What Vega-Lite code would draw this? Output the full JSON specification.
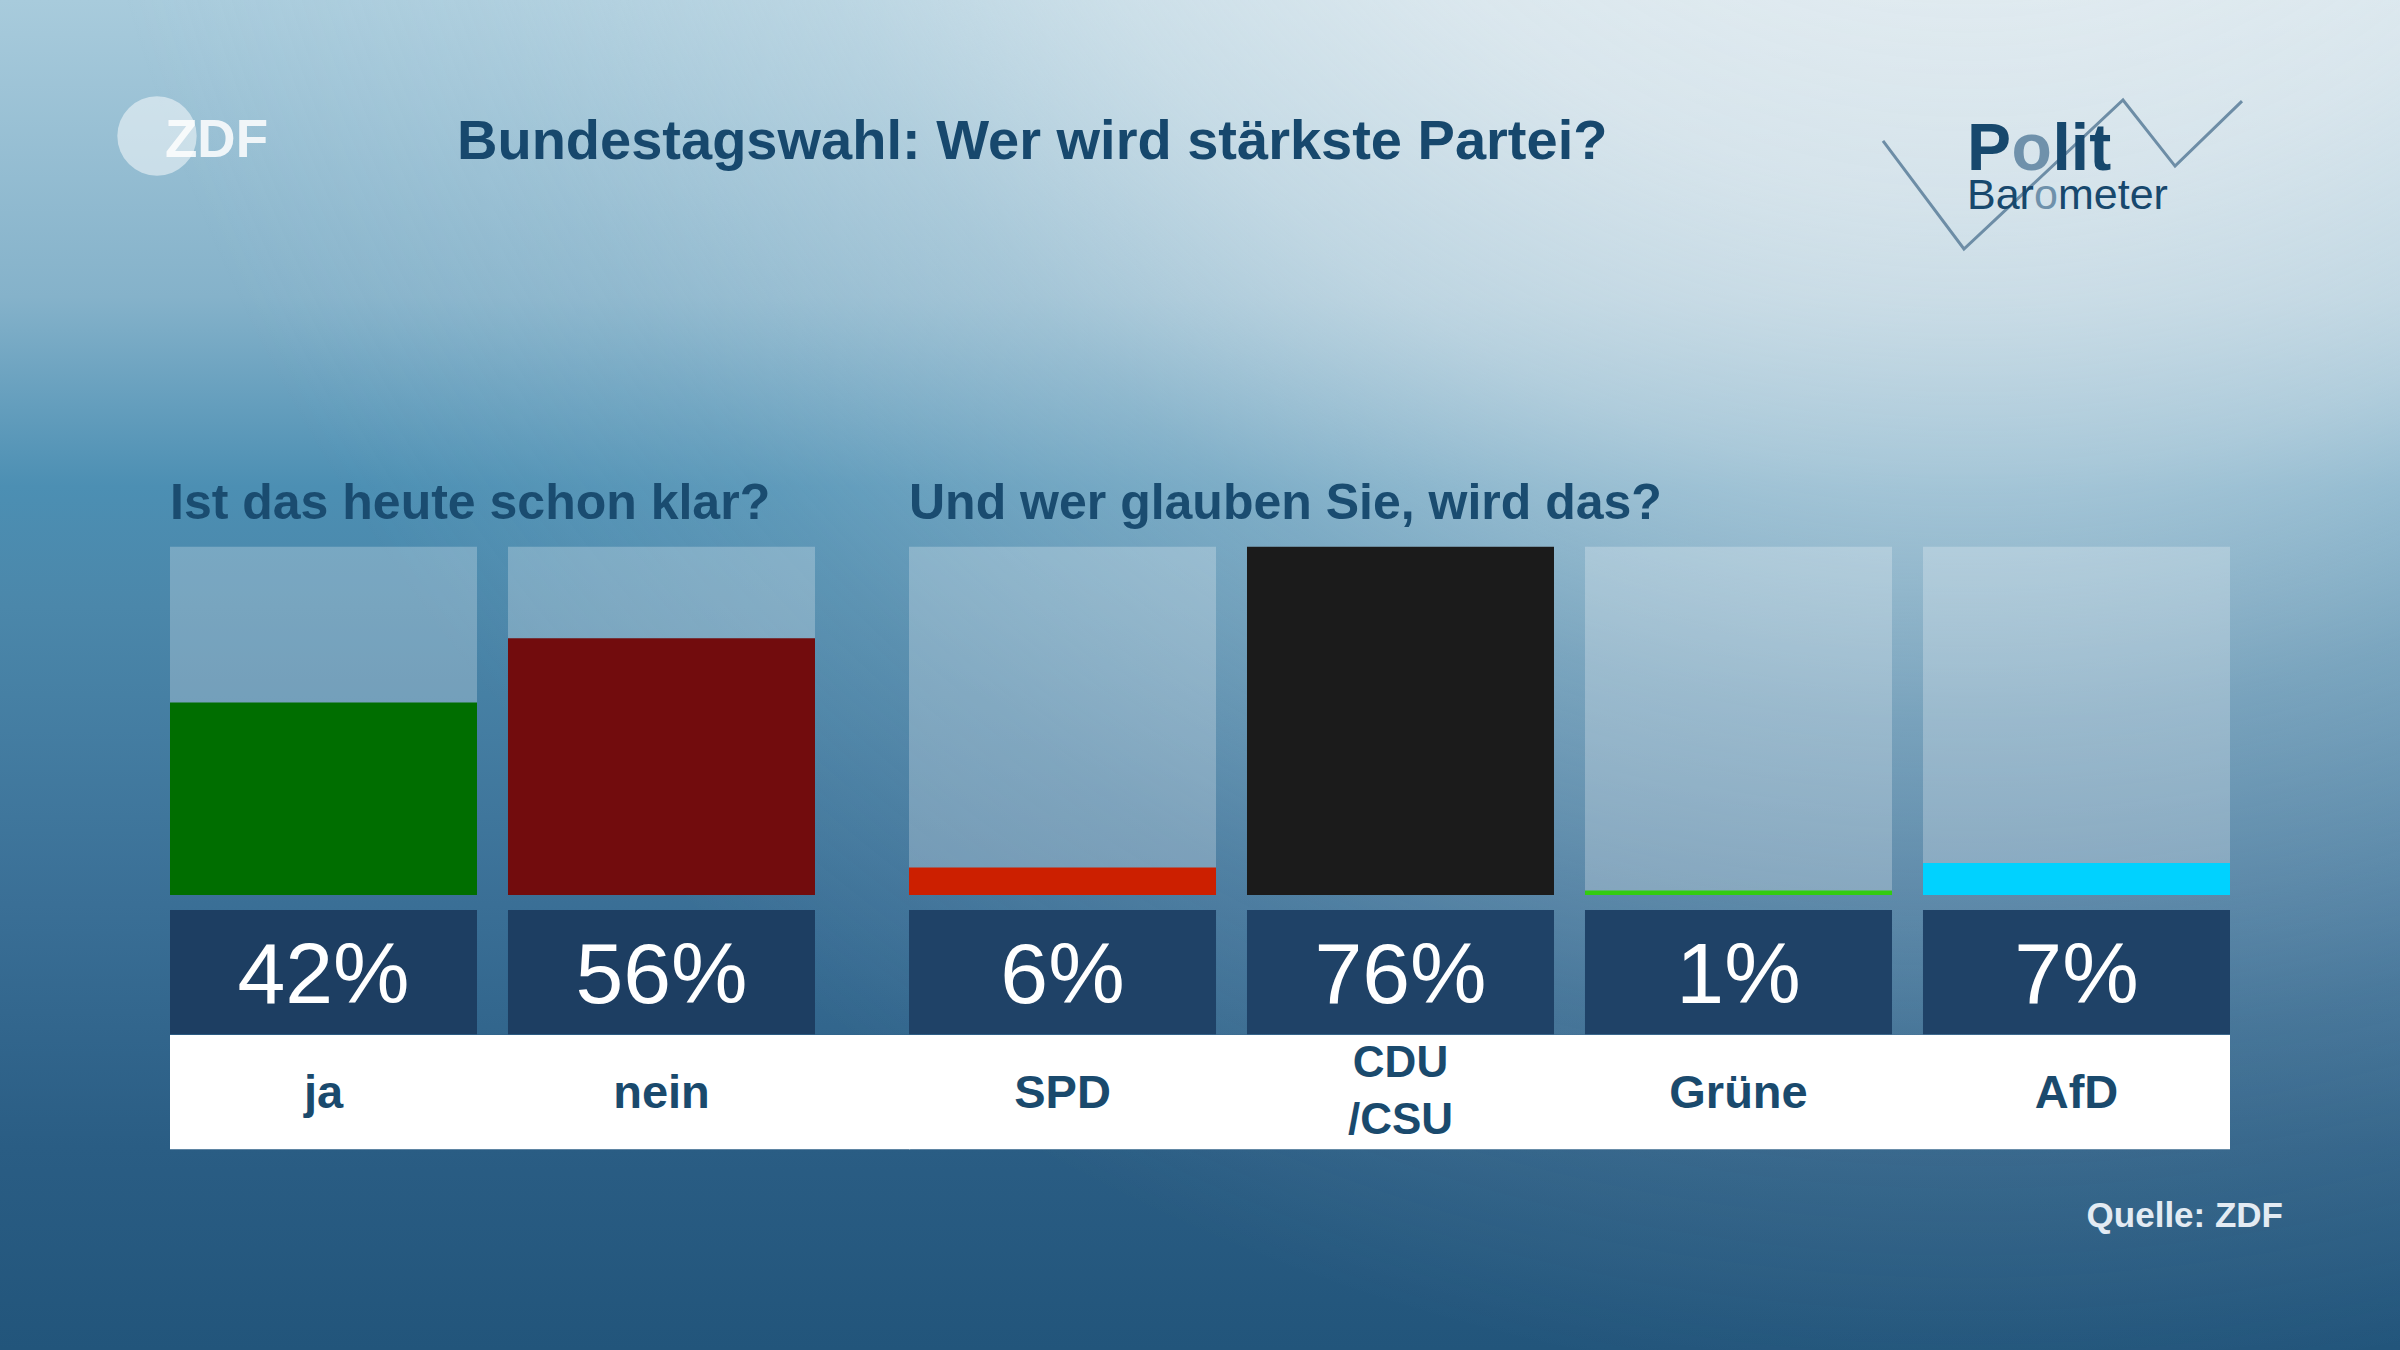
{
  "$schema": "https://vega.github.io/schema/vega-lite/v6.json",
  "width": 2400,
  "height": 1350,
  "autosize": {"type": "fit", "contains": "padding"},
  "padding": 0,
  "background": "#3c7298",
  "config": {"view": {"stroke": null}, "text": {"font": "Liberation Sans"}},
  "datasets": {
    "frage1": [
      {"kategorie": "ja", "anteil": 0.42, "name": "ja"},
      {"kategorie": "nein", "anteil": 0.56, "name": "nein"}
    ],
    "frage2": [
      {"kategorie": "SPD", "anteil": 0.06, "name": "SPD"},
      {"kategorie": "CDU/CSU", "anteil": 0.76, "name": "CDU\n/CSU"},
      {"kategorie": "Grüne", "anteil": 0.01, "name": "Grüne"},
      {"kategorie": "AfD", "anteil": 0.07, "name": "AfD"}
    ]
  },
  "layer": [
    {
      "data": {"values": [{}]},
      "mark": {"type": "rect", "fill": {"gradient": "linear", "x1": 0, "y1": 0, "x2": 0, "y2": 1, "stops": [
        {"offset": 0, "color": "#a8cbdc"},
        {"offset": 0.22, "color": "#85b2ca"},
        {"offset": 0.36, "color": "#4c8fb3"},
        {"offset": 0.45, "color": "#4b87aa"},
        {"offset": 0.67, "color": "#3a6f96"},
        {"offset": 0.85, "color": "#2a5d84"},
        {"offset": 1, "color": "#22557b"}
      ]}, "strokeWidth": 0},
      "encoding": {"x": {"value": 0}, "x2": {"value": "width"}, "y": {"value": 0}, "y2": {"value": "height"}}
    },
    {
      "data": {"values": [{}]},
      "mark": {"type": "rect", "fill": {"gradient": "radial", "x1": 0.82, "y1": 0, "r1": 0, "x2": 0.82, "y2": 0, "r2": 0.8, "stops": [
        {"offset": 0, "color": "rgba(240,244,246,0.95)"},
        {"offset": 0.375, "color": "rgba(236,241,244,0.75)"},
        {"offset": 0.52, "color": "rgba(230,238,242,0.58)"},
        {"offset": 0.65, "color": "rgba(225,235,240,0.33)"},
        {"offset": 0.82, "color": "rgba(225,235,240,0.12)"},
        {"offset": 1, "color": "rgba(225,235,240,0)"}
      ]}, "strokeWidth": 0},
      "encoding": {"x": {"value": 0}, "x2": {"value": "width"}, "y": {"value": 0}, "y2": {"value": "height"}}
    },
    {
      "data": {"name": "frage1"},
      "layer": [
        {
          "mark": {"type": "bar", "color": "#ffffff", "opacity": 0.25},
          "encoding": {
            "x": {"field": "kategorie", "type": "nominal", "scale": {"domain": ["ja", "nein"], "range": [170, 815], "paddingInner": 0.0917, "paddingOuter": 0}, "axis": null},
            "y": {"datum": 0.76, "type": "quantitative", "scale": {"domain": [-0.9928, 1.9529], "nice": false, "zero": false}, "axis": null},
            "y2": {"datum": 0}
          }
        },
        {
          "mark": {"type": "bar"},
          "encoding": {
            "x": {"field": "kategorie", "type": "nominal", "scale": {"domain": ["ja", "nein"], "range": [170, 815], "paddingInner": 0.0917, "paddingOuter": 0}, "axis": null},
            "y": {"field": "anteil", "type": "quantitative", "scale": {"domain": [-0.9928, 1.9529], "nice": false, "zero": false}, "axis": null},
            "y2": {"datum": 0},
            "color": {"field": "kategorie", "type": "nominal", "scale": {"domain": ["ja", "nein", "SPD", "CDU/CSU", "Grüne", "AfD"], "range": ["#006e00", "#720c0d", "#cc1f00", "#1b1b1b", "#33cc11", "#00d2ff"]}, "legend": null}
          }
        },
        {
          "mark": {"type": "bar", "color": "#1d3e62"},
          "encoding": {
            "x": {"field": "kategorie", "type": "nominal", "scale": {"domain": ["ja", "nein"], "range": [170, 815], "paddingInner": 0.0917, "paddingOuter": 0}, "axis": null},
            "y": {"datum": -0.0327, "type": "quantitative", "scale": {"domain": [-0.9928, 1.9529], "nice": false, "zero": false}, "axis": null},
            "y2": {"datum": -0.3039}
          }
        },
        {
          "data": {"values": [{}]},
          "mark": {"type": "rect", "color": "#ffffff"},
          "encoding": {
            "x": {"datum": "ja", "type": "nominal", "bandPosition": 0, "scale": {"domain": ["ja", "nein"], "range": [170, 815], "paddingInner": 0.0917, "paddingOuter": 0}, "axis": null},
            "x2": {"datum": "nein", "bandPosition": 1.31},
            "y": {"datum": -0.3055, "type": "quantitative", "scale": {"domain": [-0.9928, 1.9529], "nice": false, "zero": false}, "axis": null},
            "y2": {"datum": -0.5549}
          }
        },
        {
          "mark": {"type": "text", "align": "center", "baseline": "alphabetic", "fontSize": 86, "color": "#ffffff"},
          "encoding": {
            "x": {"field": "kategorie", "type": "nominal", "scale": {"domain": ["ja", "nein"], "range": [170, 815], "paddingInner": 0.0917, "paddingOuter": 0}, "axis": null},
            "y": {"datum": -0.2363, "type": "quantitative", "scale": {"domain": [-0.9928, 1.9529], "nice": false, "zero": false}, "axis": null},
            "text": {"field": "anteil", "type": "quantitative", "format": ".0%"}
          }
        },
        {
          "mark": {"type": "text", "align": "center", "baseline": "alphabetic", "fontSize": 47, "fontWeight": "bold", "color": "#1a4a6d"},
          "encoding": {
            "x": {"field": "kategorie", "type": "nominal", "scale": {"domain": ["ja", "nein"], "range": [170, 815], "paddingInner": 0.0917, "paddingOuter": 0}, "axis": null},
            "y": {"datum": -0.4654, "type": "quantitative", "scale": {"domain": [-0.9928, 1.9529], "nice": false, "zero": false}, "axis": null},
            "text": {"field": "name", "type": "nominal"}
          }
        },
        {
          "data": {"values": [{}]},
          "mark": {"type": "text", "text": "Ist das heute schon klar?", "align": "left", "baseline": "alphabetic", "fontSize": 50, "fontWeight": "bold", "color": "#1a4c70"},
          "encoding": {
            "x": {"datum": "ja", "type": "nominal", "bandPosition": 0, "scale": {"domain": ["ja", "nein"], "range": [170, 815], "paddingInner": 0.0917, "paddingOuter": 0}, "axis": null},
            "y": {"datum": 0.8198, "type": "quantitative", "scale": {"domain": [-0.9928, 1.9529], "nice": false, "zero": false}, "axis": null}
          }
        },
        {
          "data": {"values": [{}]},
          "mark": {"type": "text", "text": "Bundestagswahl: Wer wird stärkste Partei?", "align": "left", "baseline": "alphabetic", "fontSize": 56, "fontWeight": "bold", "color": "#17486d", "dx": 287},
          "encoding": {
            "x": {"datum": "ja", "type": "nominal", "bandPosition": 0, "scale": {"domain": ["ja", "nein"], "range": [170, 815], "paddingInner": 0.0917, "paddingOuter": 0}, "axis": null},
            "y": {"datum": 1.6053, "type": "quantitative", "scale": {"domain": [-0.9928, 1.9529], "nice": false, "zero": false}, "axis": null}
          }
        },
        {
          "data": {"values": [{}]},
          "mark": {"type": "point", "shape": "circle", "filled": true, "size": 6300, "color": "#ffffff", "opacity": 0.5, "xOffset": -13},
          "encoding": {
            "x": {"datum": "ja", "type": "nominal", "bandPosition": 0, "scale": {"domain": ["ja", "nein"], "range": [170, 815], "paddingInner": 0.0917, "paddingOuter": 0}, "axis": null},
            "y": {"datum": 1.6561, "type": "quantitative", "scale": {"domain": [-0.9928, 1.9529], "nice": false, "zero": false}, "axis": null}
          }
        },
        {
          "data": {"values": [{}]},
          "mark": {"type": "text", "text": "ZDF", "align": "left", "baseline": "alphabetic", "fontSize": 53, "fontWeight": "bold", "color": "#ffffff", "opacity": 0.85, "dx": -5},
          "encoding": {
            "x": {"datum": "ja", "type": "nominal", "bandPosition": 0, "scale": {"domain": ["ja", "nein"], "range": [170, 815], "paddingInner": 0.0917, "paddingOuter": 0}, "axis": null},
            "y": {"datum": 1.6103, "type": "quantitative", "scale": {"domain": [-0.9928, 1.9529], "nice": false, "zero": false}, "axis": null}
          }
        }
      ]
    },
    {
      "data": {"name": "frage2"},
      "layer": [
        {
          "mark": {"type": "bar", "color": "#ffffff", "opacity": 0.25},
          "encoding": {
            "x": {"field": "kategorie", "type": "nominal", "scale": {"domain": ["SPD", "CDU/CSU", "Grüne", "AfD"], "range": [909, 2230], "paddingInner": 0.0917, "paddingOuter": 0}, "axis": null},
            "y": {"datum": 0.76, "type": "quantitative", "scale": {"domain": [-0.9928, 1.9529], "nice": false, "zero": false}, "axis": null},
            "y2": {"datum": 0}
          }
        },
        {
          "mark": {"type": "bar"},
          "encoding": {
            "x": {"field": "kategorie", "type": "nominal", "scale": {"domain": ["SPD", "CDU/CSU", "Grüne", "AfD"], "range": [909, 2230], "paddingInner": 0.0917, "paddingOuter": 0}, "axis": null},
            "y": {"field": "anteil", "type": "quantitative", "scale": {"domain": [-0.9928, 1.9529], "nice": false, "zero": false}, "axis": null},
            "y2": {"datum": 0},
            "color": {"field": "kategorie", "type": "nominal", "scale": {"domain": ["ja", "nein", "SPD", "CDU/CSU", "Grüne", "AfD"], "range": ["#006e00", "#720c0d", "#cc1f00", "#1b1b1b", "#33cc11", "#00d2ff"]}, "legend": null}
          }
        },
        {
          "mark": {"type": "bar", "color": "#1f4267"},
          "encoding": {
            "x": {"field": "kategorie", "type": "nominal", "scale": {"domain": ["SPD", "CDU/CSU", "Grüne", "AfD"], "range": [909, 2230], "paddingInner": 0.0917, "paddingOuter": 0}, "axis": null},
            "y": {"datum": -0.0327, "type": "quantitative", "scale": {"domain": [-0.9928, 1.9529], "nice": false, "zero": false}, "axis": null},
            "y2": {"datum": -0.3039}
          }
        },
        {
          "data": {"values": [{}]},
          "mark": {"type": "rect", "color": "#ffffff"},
          "encoding": {
            "x": {"datum": "SPD", "type": "nominal", "bandPosition": 0, "scale": {"domain": ["SPD", "CDU/CSU", "Grüne", "AfD"], "range": [909, 2230], "paddingInner": 0.0917, "paddingOuter": 0}, "axis": null},
            "x2": {"datum": "AfD", "bandPosition": 1},
            "y": {"datum": -0.3055, "type": "quantitative", "scale": {"domain": [-0.9928, 1.9529], "nice": false, "zero": false}, "axis": null},
            "y2": {"datum": -0.5549}
          }
        },
        {
          "mark": {"type": "text", "align": "center", "baseline": "alphabetic", "fontSize": 86, "color": "#ffffff"},
          "encoding": {
            "x": {"field": "kategorie", "type": "nominal", "scale": {"domain": ["SPD", "CDU/CSU", "Grüne", "AfD"], "range": [909, 2230], "paddingInner": 0.0917, "paddingOuter": 0}, "axis": null},
            "y": {"datum": -0.2363, "type": "quantitative", "scale": {"domain": [-0.9928, 1.9529], "nice": false, "zero": false}, "axis": null},
            "text": {"field": "anteil", "type": "quantitative", "format": ".0%"}
          }
        },
        {
          "transform": [{"filter": "indexof(datum.name, '\\n') < 0"}],
          "mark": {"type": "text", "align": "center", "baseline": "alphabetic", "fontSize": 47, "fontWeight": "bold", "color": "#1a4a6d"},
          "encoding": {
            "x": {"field": "kategorie", "type": "nominal", "scale": {"domain": ["SPD", "CDU/CSU", "Grüne", "AfD"], "range": [909, 2230], "paddingInner": 0.0917, "paddingOuter": 0}, "axis": null},
            "y": {"datum": -0.4654, "type": "quantitative", "scale": {"domain": [-0.9928, 1.9529], "nice": false, "zero": false}, "axis": null},
            "text": {"field": "name", "type": "nominal"}
          }
        },
        {
          "transform": [{"filter": "indexof(datum.name, '\\n') >= 0"}],
          "mark": {"type": "text", "align": "center", "baseline": "alphabetic", "fontSize": 44, "fontWeight": "bold", "color": "#1a4a6d", "lineBreak": "\n", "lineHeight": 57},
          "encoding": {
            "x": {"field": "kategorie", "type": "nominal", "scale": {"domain": ["SPD", "CDU/CSU", "Grüne", "AfD"], "range": [909, 2230], "paddingInner": 0.0917, "paddingOuter": 0}, "axis": null},
            "y": {"datum": -0.3978, "type": "quantitative", "scale": {"domain": [-0.9928, 1.9529], "nice": false, "zero": false}, "axis": null},
            "text": {"field": "name", "type": "nominal"}
          }
        },
        {
          "data": {"values": [{}]},
          "mark": {"type": "text", "text": "Und wer glauben Sie, wird das?", "align": "left", "baseline": "alphabetic", "fontSize": 50, "fontWeight": "bold", "color": "#1a4c70"},
          "encoding": {
            "x": {"datum": "SPD", "type": "nominal", "bandPosition": 0, "scale": {"domain": ["SPD", "CDU/CSU", "Grüne", "AfD"], "range": [909, 2230], "paddingInner": 0.0917, "paddingOuter": 0}, "axis": null},
            "y": {"datum": 0.8198, "type": "quantitative", "scale": {"domain": [-0.9928, 1.9529], "nice": false, "zero": false}, "axis": null}
          }
        },
        {
          "data": {"values": [{}]},
          "mark": {"type": "point", "shape": "M-1,-0.187L-0.549,0.415L0.337,-0.415L0.627,-0.047L1,-0.409", "size": 128881, "filled": false, "color": "#6d8da6", "strokeWidth": 3, "opacity": 1, "xOffset": 139.5},
          "encoding": {
            "x": {"datum": "AfD", "type": "nominal", "bandPosition": 0, "scale": {"domain": ["SPD", "CDU/CSU", "Grüne", "AfD"], "range": [909, 2230], "paddingInner": 0.0917, "paddingOuter": 0}, "axis": null},
            "y": {"datum": 1.5721, "type": "quantitative", "scale": {"domain": [-0.9928, 1.9529], "nice": false, "zero": false}, "axis": null}
          }
        },
        {
          "data": {"values": [{}]},
          "layer": [
            {
              "mark": {"type": "text", "text": "P", "align": "left", "baseline": "alphabetic", "fontSize": 66, "fontWeight": "bold", "color": "#17486d", "dx": 44},
              "encoding": {
                "x": {"datum": "AfD", "type": "nominal", "bandPosition": 0, "scale": {"domain": ["SPD", "CDU/CSU", "Grüne", "AfD"], "range": [909, 2230], "paddingInner": 0.0917, "paddingOuter": 0}, "axis": null},
                "y": {"datum": 1.582, "type": "quantitative", "scale": {"domain": [-0.9928, 1.9529], "nice": false, "zero": false}, "axis": null}
              }
            },
            {
              "mark": {"type": "text", "text": "o", "align": "left", "baseline": "alphabetic", "fontSize": 66, "fontWeight": "bold", "color": "#6f91ab", "dx": 88.5},
              "encoding": {
                "x": {"datum": "AfD", "type": "nominal", "bandPosition": 0, "scale": {"domain": ["SPD", "CDU/CSU", "Grüne", "AfD"], "range": [909, 2230], "paddingInner": 0.0917, "paddingOuter": 0}, "axis": null},
                "y": {"datum": 1.582, "type": "quantitative", "scale": {"domain": [-0.9928, 1.9529], "nice": false, "zero": false}, "axis": null}
              }
            },
            {
              "mark": {"type": "text", "text": "lit", "align": "left", "baseline": "alphabetic", "fontSize": 66, "fontWeight": "bold", "color": "#17486d", "dx": 129.5},
              "encoding": {
                "x": {"datum": "AfD", "type": "nominal", "bandPosition": 0, "scale": {"domain": ["SPD", "CDU/CSU", "Grüne", "AfD"], "range": [909, 2230], "paddingInner": 0.0917, "paddingOuter": 0}, "axis": null},
                "y": {"datum": 1.582, "type": "quantitative", "scale": {"domain": [-0.9928, 1.9529], "nice": false, "zero": false}, "axis": null}
              }
            },
            {
              "mark": {"type": "text", "text": "Bar", "align": "left", "baseline": "alphabetic", "fontSize": 43, "color": "#17486d", "dx": 44},
              "encoding": {
                "x": {"datum": "AfD", "type": "nominal", "bandPosition": 0, "scale": {"domain": ["SPD", "CDU/CSU", "Grüne", "AfD"], "range": [909, 2230], "paddingInner": 0.0917, "paddingOuter": 0}, "axis": null},
                "y": {"datum": 1.4962, "type": "quantitative", "scale": {"domain": [-0.9928, 1.9529], "nice": false, "zero": false}, "axis": null}
              }
            },
            {
              "mark": {"type": "text", "text": "o", "align": "left", "baseline": "alphabetic", "fontSize": 43, "color": "#6f91ab", "dx": 111},
              "encoding": {
                "x": {"datum": "AfD", "type": "nominal", "bandPosition": 0, "scale": {"domain": ["SPD", "CDU/CSU", "Grüne", "AfD"], "range": [909, 2230], "paddingInner": 0.0917, "paddingOuter": 0}, "axis": null},
                "y": {"datum": 1.4962, "type": "quantitative", "scale": {"domain": [-0.9928, 1.9529], "nice": false, "zero": false}, "axis": null}
              }
            },
            {
              "mark": {"type": "text", "text": "meter", "align": "left", "baseline": "alphabetic", "fontSize": 43, "color": "#17486d", "dx": 135},
              "encoding": {
                "x": {"datum": "AfD", "type": "nominal", "bandPosition": 0, "scale": {"domain": ["SPD", "CDU/CSU", "Grüne", "AfD"], "range": [909, 2230], "paddingInner": 0.0917, "paddingOuter": 0}, "axis": null},
                "y": {"datum": 1.4962, "type": "quantitative", "scale": {"domain": [-0.9928, 1.9529], "nice": false, "zero": false}, "axis": null}
              }
            }
          ]
        },
        {
          "data": {"values": [{}]},
          "mark": {"type": "text", "text": "Quelle: ZDF", "align": "right", "baseline": "alphabetic", "fontSize": 35, "fontWeight": "bold", "color": "#e3ebf3", "dx": 53},
          "encoding": {
            "x": {"datum": "AfD", "type": "nominal", "bandPosition": 1, "scale": {"domain": ["SPD", "CDU/CSU", "Grüne", "AfD"], "range": [909, 2230], "paddingInner": 0.0917, "paddingOuter": 0}, "axis": null},
            "y": {"datum": -0.7251, "type": "quantitative", "scale": {"domain": [-0.9928, 1.9529], "nice": false, "zero": false}, "axis": null}
          }
        }
      ]
    }
  ],
  "resolve": {"scale": {"x": "independent"}}
}
